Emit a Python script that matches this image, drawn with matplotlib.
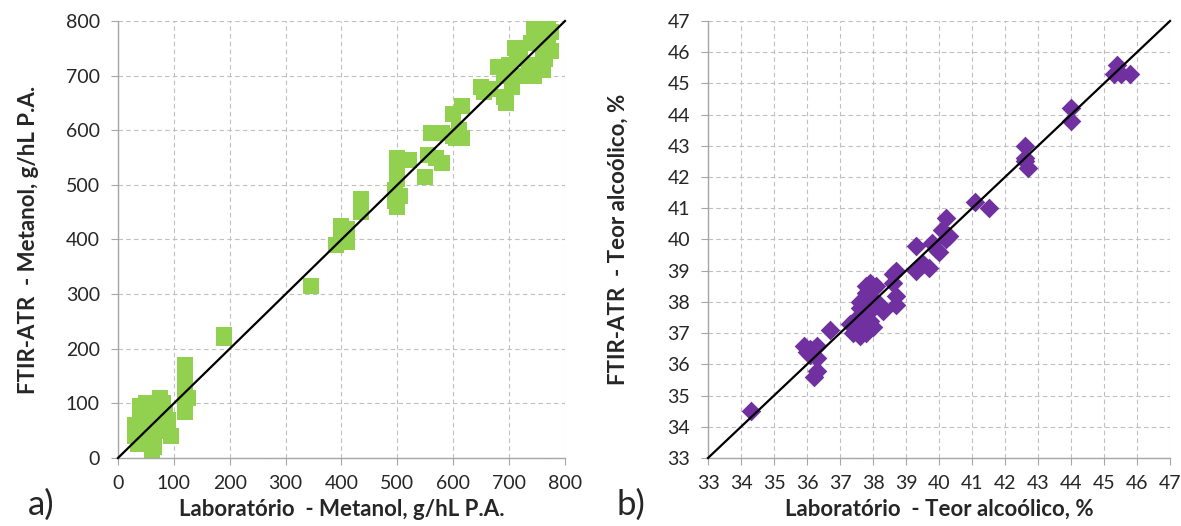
import matplotlib.pyplot as plt
import numpy as np

plt.rcParams['font.family'] = ['Lato', 'DejaVu Sans']

# painel a) metanol, g/hL P.A.
met_lab = [30, 30, 35, 40, 50, 55, 55, 60, 60, 65, 70, 75, 80, 80, 85, 90, 95, 50, 45, 60,
           65, 70, 40, 35, 120, 120, 120, 120, 120, 125, 190, 190, 345, 390, 400, 400, 410,
           410, 435, 435, 495, 495, 500, 500, 500, 500, 505, 520, 550, 555, 560, 570, 580,
           580, 600, 600, 605, 610, 615, 615, 650, 655, 665, 680, 690, 690, 695, 700, 700,
           705, 710, 715, 720, 720, 725, 735, 740, 745, 745, 755, 760, 760, 765, 770, 770,
           775, 775, 760]
met_ftir = [60, 40, 25, 95, 100, 80, 60, 10, 30, 20, 50, 110, 100, 90, 80, 70, 40, 50, 45, 90,
            100, 70, 70, 55, 170, 150, 120, 100, 85, 110, 225, 220, 315, 390, 425, 400, 420,
            395, 475, 450, 490, 470, 550, 530, 510, 460, 480, 545, 515, 555, 595, 550, 595,
            540, 630, 590, 585, 600, 645, 585, 680, 670, 675, 715, 700, 660, 650, 720, 700,
            680, 750, 740, 750, 730, 700, 720, 760, 785, 700, 790, 770, 740, 730, 800, 760,
            745, 780, 710]

# painel b) teor alcoolico, %
alc_lab = [34.3, 35.9, 36.0, 36.1, 36.2, 36.3, 36.2, 36.3, 36.3, 36.1, 36.7, 37.3, 37.4, 37.5,
           37.6, 37.6, 37.6, 37.7, 37.7, 37.8, 37.8, 37.9, 37.9, 38.0, 38.0, 38.0, 38.1, 38.2,
           38.3, 38.6, 38.7, 38.7, 38.6, 38.7, 39.3, 39.3, 39.5, 39.7, 39.8, 39.9, 40.0, 40.1,
           40.2, 40.2, 40.3, 41.1, 41.5, 42.6, 42.6, 42.7, 42.6, 44.0, 44.0, 45.3, 45.4, 45.5,
           45.8, 37.7, 37.8, 37.9, 38.0]
alc_ftir = [34.5, 36.6, 36.4, 36.3, 36.5, 36.6, 35.6, 35.8, 36.2, 36.5, 37.1, 37.3, 37.0, 37.5,
            36.9, 37.8, 38.0, 37.2, 37.6, 38.3, 38.5, 38.6, 37.4, 38.0, 37.2, 38.4, 38.5, 37.9,
            37.7, 38.9, 39.0, 38.2, 38.6, 37.9, 39.8, 39.0, 39.2, 39.1, 39.9, 39.7, 39.6, 40.3,
            40.7, 40.0, 40.1, 41.2, 41.0, 43.0, 42.6, 42.3, 42.5, 44.2, 43.8, 45.3, 45.6, 45.3,
            45.3, 37.4, 37.0, 38.2, 37.8]


def style_axes(ax, lim, step):
    ax.set_xlim(lim)
    ax.set_ylim(lim)
    ticks = np.arange(lim[0], lim[1] + step, step)
    ax.set_xticks(ticks)
    ax.set_yticks(ticks)
    ax.grid(True, linestyle=(0, (4, 3)), color='#BFBFBF', linewidth=0.8)
    ax.set_axisbelow(True)
    for s in ['top', 'right']:
        ax.spines[s].set_visible(False)
    for s in ['left', 'bottom']:
        ax.spines[s].set_color('#A6A6A6')
        ax.spines[s].set_linewidth(1.0)
    ax.tick_params(direction='out', length=5, color='#A6A6A6', labelsize=14,
                   labelcolor='#262626')
    ax.tick_params(axis='x', pad=7)
    ax.tick_params(axis='y', pad=8)
    ax.plot(lim, lim, color='black', linewidth=1.6, zorder=3, clip_on=False)


fig = plt.figure(figsize=(11.81, 5.26), dpi=100)

ax1 = fig.add_axes([0.0999, 0.1293, 0.3785, 0.8308])
ax1.scatter(met_lab, met_ftir, marker='s', s=135, color='#92D050', linewidths=0, zorder=2)
style_axes(ax1, (0, 800), 100)
ax1.set_xlabel('Laboratório  - Metanol, g/hL P.A.', fontsize=16, fontweight='bold',
               color='#262626', labelpad=5)
ax1.set_ylabel('FTIR-ATR  - Metanol, g/hL P.A.', fontsize=16, fontweight='bold',
               color='#262626', labelpad=19)
fig.text(0.024, 0.022, 'a)', fontsize=25, color='#262626')

ax2 = fig.add_axes([0.5995, 0.1293, 0.3912, 0.8308])
ax2.scatter(alc_lab, alc_ftir, marker='D', s=100, color='#7030A0', linewidths=0, zorder=2)
style_axes(ax2, (33, 47), 1)
ax2.set_xlabel('Laboratório  - Teor alcoólico, %', fontsize=16, fontweight='bold',
               color='#262626', labelpad=5)
ax2.set_ylabel('FTIR-ATR  - Teor alcoólico, %', fontsize=16, fontweight='bold',
               color='#262626', labelpad=28)
fig.text(0.522, 0.022, 'b)', fontsize=25, color='#262626')

fig.savefig('out.png', dpi=100)
